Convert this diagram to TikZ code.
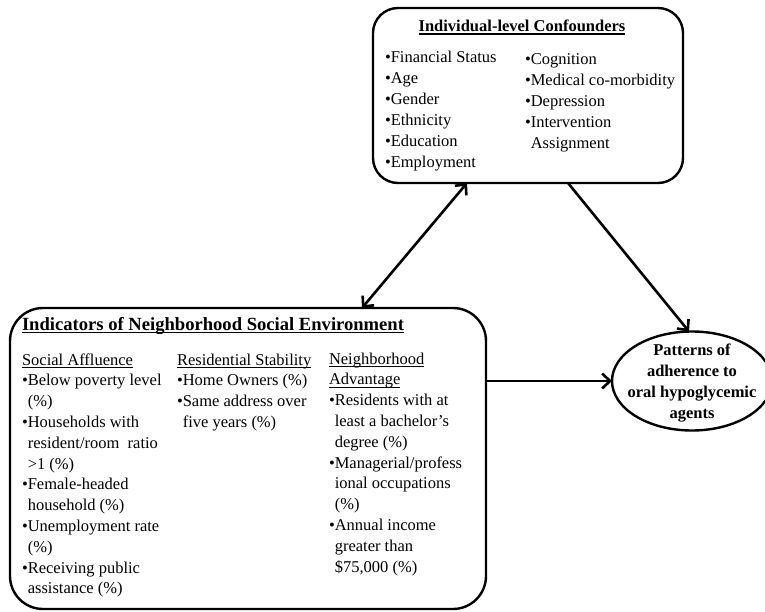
\documentclass[tikz,border=0pt]{standalone}
\usepackage{fontspec}
\setmainfont{Liberation Serif}
\usetikzlibrary{arrows.meta,shapes.geometric}
\newcommand\myul[2][0.9pt]{\setbox0\hbox{#2}\rlap{\rule[-2.6pt]{\wd0}{#1}}\box0}
\newcommand\cont{\hphantom{•}}
\begin{document}
\begin{tikzpicture}[x=1pt,y=-1pt,
  every node/.style={inner sep=0pt, outer sep=0pt},
  frame/.style={draw, line width=2.4pt, rectangle},
  tip/.tip={Straight Barb[length=8pt,width=15pt]},
  conn/.style={line width=2.6pt, -tip},
  dconn/.style={line width=2.6pt, tip-tip},
  col/.style={anchor=base west, font=\fontsize{16.5}{20.8}\selectfont},
  tcol/.style={anchor=base west, font=\fontsize{16.5}{21}\selectfont},
  ttl/.style={anchor=base west, font=\fontsize{18.6}{22}\selectfont\bfseries}]
\useasboundingbox (0,0) rectangle (765,612);

% boxes
\node[frame, rounded corners=25pt, minimum width=310pt, minimum height=175pt] (conf) at (528,95.5) {};
\node[frame, rounded corners=33pt, minimum width=476pt, minimum height=301pt] (env) at (248,458.5) {};
\node[draw, ellipse, line width=2.4pt, minimum width=160pt, minimum height=99pt] (out) at (692,381) {};

% top box text
\node[anchor=base, font=\fontsize{16.5}{21}\selectfont\bfseries] (conft) at (522,32) {\myul[1.1pt]{Individual-level Confounders}};
\node[tcol] (confa) at (385,63) {\begin{tabular}[t]{@{}l@{}}
•Financial Status\\ •Age\\ •Gender\\ •Ethnicity\\ •Education\\ •Employment\end{tabular}};
\node[tcol] (confb) at (525,65) {\begin{tabular}[t]{@{}l@{}}
•Cognition\\ •Medical co-morbidity\\ •Depression\\ •Intervention\\ \cont Assignment\end{tabular}};

% bottom box text
\node[ttl] (envt) at (22,330) {\myul[1.1pt]{Indicators of Neighborhood Social Environment}};
\node[col] (enva) at (22,365) {\begin{tabular}[t]{@{}l@{}}
\myul{Social Affluence}\\
•Below poverty level\\ \cont(\%)\\
•Households with\\ \cont resident/room\ \ ratio\\ \cont>1 (\%)\\
•Female-headed\\ \cont household (\%)\\
•Unemployment rate\\ \cont(\%)\\
•Receiving public\\ \cont assistance (\%)\end{tabular}};
\node[col] (envb) at (177,365) {\begin{tabular}[t]{@{}l@{}}
\myul{Residential Stability}\\
•Home Owners (\%)\\
•Same address over\\ \cont five years (\%)\end{tabular}};
\node[col] (envc) at (329,364) {\begin{tabular}[t]{@{}l@{}}
\myul{Neighborhood}\\ \myul{Advantage}\\
•Residents with at\\ \cont least a bachelor’s\\ \cont degree (\%)\\
•Managerial/profess\\ \cont ional occupations\\ \cont(\%)\\
•Annual income\\ \cont greater than\\ \cont\$75,000 (\%)\end{tabular}};

% outcome text
\node[align=center, font=\fontsize{16.5}{21}\selectfont\bfseries] (outt) at ([yshift=-2pt]out.center) {Patterns of\\ adherence to\\ oral hypoglycemic\\ agents};

% connectors
\draw[dconn] ([xshift=94pt]conf.south west) -- ([xshift=352pt]env.north west);
\draw[conn] ([xshift=195pt]conf.south west) -- ([xshift=-3pt]out.north);
\draw[conn] (out.west -| env.east) -- (out.west);
\end{tikzpicture}
\end{document}
